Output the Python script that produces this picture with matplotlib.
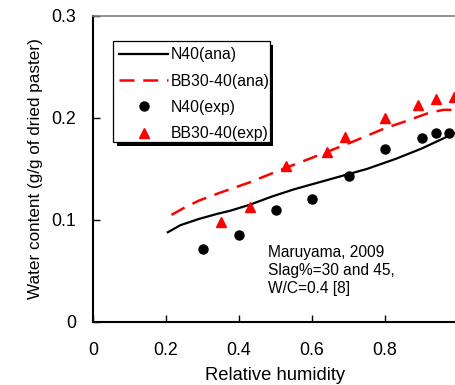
import matplotlib
matplotlib.use("Agg")
import matplotlib.pyplot as plt
from matplotlib.patches import Rectangle

plt.rcParams['font.family'] = ['Liberation Sans', 'DejaVu Sans']

# Analytical curves
n40_ana_x = [0.205, 0.24, 0.29, 0.34, 0.375, 0.43, 0.49, 0.55, 0.65, 0.75, 0.83, 0.90, 0.96, 0.99]
n40_ana_y = [0.088, 0.095, 0.101, 0.106, 0.109, 0.115, 0.123, 0.130, 0.140, 0.150, 0.160, 0.170, 0.180, 0.185]
bb_ana_x = [0.215, 0.25, 0.29, 0.35, 0.43, 0.52, 0.60, 0.65, 0.72, 0.80, 0.85, 0.92, 0.96, 0.99]
bb_ana_y = [0.105, 0.112, 0.119, 0.127, 0.137, 0.150, 0.161, 0.168, 0.178, 0.190, 0.196, 0.205, 0.208, 0.208]

# Experimental data
n40_exp_x = [0.30, 0.40, 0.50, 0.60, 0.70, 0.80, 0.90, 0.94, 0.975]
n40_exp_y = [0.072, 0.085, 0.110, 0.121, 0.143, 0.170, 0.180, 0.185, 0.185]
bb_exp_x = [0.35, 0.43, 0.53, 0.64, 0.69, 0.80, 0.89, 0.94, 0.99]
bb_exp_y = [0.098, 0.113, 0.153, 0.167, 0.181, 0.200, 0.213, 0.219, 0.221]

xticks = [0, 0.2, 0.4, 0.6, 0.8]
xticklabels = ['0', '0.2', '0.4', '0.6', '0.8']
yticks = [0, 0.1, 0.2, 0.3]
yticklabels = ['0', '0.1', '0.2', '0.3']

fig = plt.figure(figsize=(4.55, 3.85), dpi=100)
ax = fig.add_axes([93/455, 63/385, 365/455, 306/385])

ax.plot(n40_ana_x, n40_ana_y, color='black', lw=1.6, label='N40(ana)')
ax.plot(bb_ana_x, bb_ana_y, color='#ff0000', lw=1.8, dashes=(6, 3.5), label='BB30-40(ana)')
ax.plot(n40_exp_x, n40_exp_y, 'o', color='black', ms=6.5, ls='none', label='N40(exp)')
ax.plot(bb_exp_x, bb_exp_y, '^', color='#ff0000', ms=7.5, ls='none', label='BB30-40(exp)')

ax.set_xlim(0, 1.0)
ax.set_ylim(0, 0.3)
ax.set_xticks(xticks)
ax.set_xticklabels(xticklabels)
ax.set_yticks(yticks)
ax.set_yticklabels(yticklabels)
ax.tick_params(direction='in', length=5, width=1, labelsize=12.8, color='black')
ax.tick_params(axis='y', pad=12)
ax.tick_params(axis='x', pad=14.5)

for s in ['left', 'bottom']:
    ax.spines[s].set_linewidth(1.5)
    ax.spines[s].set_color('black')
ax.spines['top'].set_linewidth(1.2)
ax.spines['top'].set_color('#808080')
ax.spines['right'].set_visible(False)

ax.set_xlabel('Relative humidity', fontsize=13.2, labelpad=6)
ax.set_ylabel('Water content (g/g of dried paster)', fontsize=12.3, labelpad=6)

leg = ax.legend(loc='upper left', bbox_to_anchor=(0.055, 0.918), borderaxespad=0,
                fontsize=11.3, frameon=False,
                handlelength=3.1, handletextpad=0.15, labelspacing=0.72,
                borderpad=0.4)
leg.set_zorder(6)

# legend frame with black drop shadow (axes-fraction box)
fx0, fy0, fw, fh = 0.0548, 0.588, 0.430, 0.330
sdx, sdy = 0.0096, 0.0114
ax.add_patch(Rectangle((fx0 + sdx, fy0 - sdy), fw, fh, transform=ax.transAxes,
                       facecolor='black', edgecolor='black', lw=0, zorder=4.8, clip_on=False))
ax.add_patch(Rectangle((fx0, fy0), fw, fh, transform=ax.transAxes,
                       facecolor='white', edgecolor='black', lw=0.9, zorder=4.9, clip_on=False))

ax.text(0.479, 0.0755, 'Maruyama, 2009\nSlag%=30 and 45,\nW/C=0.4 [8]',
        fontsize=11.2, va='top', ha='left', linespacing=1.25)

fig.savefig('out.png', dpi=100)
